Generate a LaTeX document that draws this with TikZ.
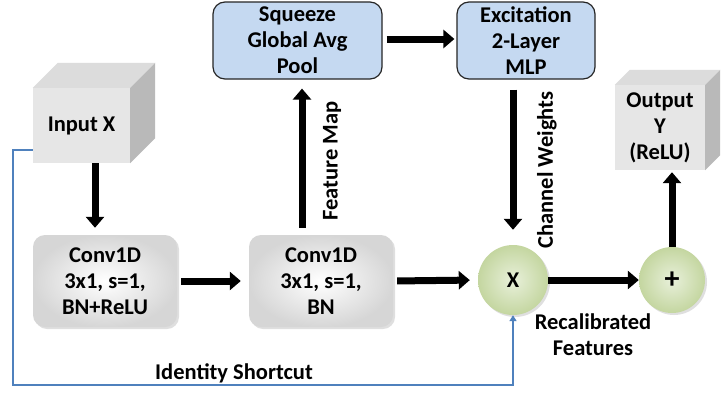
\documentclass[tikz,border=0pt]{standalone}
\usepackage{fontspec}
\setmainfont{Carlito}
\usetikzlibrary{arrows.meta,shadows,calc}
\definecolor{boxblue}{RGB}{197,217,241}
\definecolor{shortblue}{RGB}{79,129,189}
\definecolor{greenin}{RGB}{232,240,218}
\definecolor{greenout}{RGB}{196,214,160}
\definecolor{cubefront}{RGB}{230,230,230}
\definecolor{cubetop}{RGB}{220,220,220}
\definecolor{cubeside}{RGB}{185,185,185}
\begin{document}
\begin{tikzpicture}[x=1pt,y=-1pt,
  font=\fontsize{22.5}{26}\selectfont\bfseries,
  bluebox/.style={rectangle, rounded corners=12pt, fill=boxblue, draw=black!85, line width=1.2pt, align=center, inner sep=0pt},
  convbox/.style={rectangle, rounded corners=12pt, inner color=white, outer color=black!16, align=center, inner sep=0pt, minimum width=144pt, minimum height=92pt,
     drop shadow={opacity=0.25, shadow xshift=2pt, shadow yshift=-2pt}},
  opcirc/.style={circle, inner color=greenin, outer color=greenout, inner sep=0pt,
     drop shadow={opacity=0.25, shadow xshift=2pt, shadow yshift=-2pt}},
  cubeface/.style={rectangle, fill=cubefront, align=center, inner sep=0pt},
  bigarrow/.style={line width=7pt, -{Triangle[length=11pt,width=18pt]}, black},
  skip/.style={line width=2.8pt, shortblue, -{Triangle[length=6pt,width=7pt]}},
  lbl/.style={align=center, inner sep=0pt}
]
\useasboundingbox (0,0) rectangle (725,394);
\fill[white] (0,0) rectangle (725,394);

% Input cube
\node[cubeface, minimum width=97pt, minimum height=75pt] (in) at (81.5,125.5) {Input X};
\fill[cubetop] (in.north west) -- ++(25,-25) -- ($(in.north east)+(25,-25)$) -- (in.north east) -- cycle;
\fill[cubeside] (in.north east) -- ++(25,-25) -- ($(in.south east)+(25,-25)$) -- (in.south east) -- cycle;

% Output cube
\node[cubeface, minimum width=90pt, minimum height=85pt] (out) at (660,127.5) {Output\\Y\\(ReLU)};
\fill[cubetop] (out.north west) -- ++(15,-15) -- ($(out.north east)+(15,-15)$) -- (out.north east) -- cycle;
\fill[cubeside] (out.north east) -- ++(15,-15) -- ($(out.south east)+(15,-15)$) -- (out.south east) -- cycle;

% Conv boxes
\node[convbox] (c1) at (105,281) {Conv1D\\3x1, s=1,\\BN+ReLU};
\node[convbox] (c2) at (321,281) {Conv1D\\3x1, s=1,\\BN};

% SE boxes
\node[bluebox, minimum width=169pt, minimum height=77pt] (sq) at (297.5,40.5) {Squeeze\\Global Avg\\Pool};
\node[bluebox, minimum width=138pt, minimum height=77pt] (ex) at (526,40.5) {Excitation\\2-Layer\\MLP};

% circles
\node[opcirc, minimum size=70pt] (mul) at (513,280) {X};
\node[opcirc, minimum size=66pt, font=\fontsize{30}{30}\selectfont\bfseries] (add) at (672,280) {+};

% arrows
\draw[bigarrow, shorten >=7pt] ([xshift=13.5pt]in.south) -- ([xshift=-10pt]c1.north);
\draw[bigarrow, shorten <=4pt, shorten >=8pt] (c1.east) -- (c2.west);
\draw[bigarrow, shorten <=4pt, shorten >=8pt] (c2.east) -- (mul.west);
\draw[bigarrow] (mul.east) -- (add.west);
\draw[bigarrow, shorten >=2pt] (add.north) -- (add.north |- out.south);
\draw[bigarrow, shorten <=7pt, shorten >=9pt] ([xshift=-19pt]c2.north) -- ([xshift=-19pt]c2.north |- sq.south);
\draw[bigarrow, shorten <=4pt, shorten >=2pt] (sq.east |- 0,39) -- (ex.west |- 0,39);
\draw[bigarrow, shorten <=10pt, shorten >=15pt] (ex.south -| mul.north) -- (mul.north);

% identity shortcut
\coordinate (s0) at (in.west |- 0,150);
\coordinate (s1) at (13,150);
\coordinate (s2) at (13,385);
\coordinate (s3) at (mul.south |- 0,385);
\draw[skip] (s0) -- (s1) -- (s2) -- (s3) -- (mul.south);

% labels
\node[lbl, rotate=90] (fm) at (332,161) {Feature Map};
\node[lbl, rotate=90] (cw) at (547,170) {Channel Weights};
\node[lbl] (rf) at (593,335) {Recalibrated\\Features};
\node[lbl] (is) at (234,373) {Identity Shortcut};
\end{tikzpicture}
\end{document}
